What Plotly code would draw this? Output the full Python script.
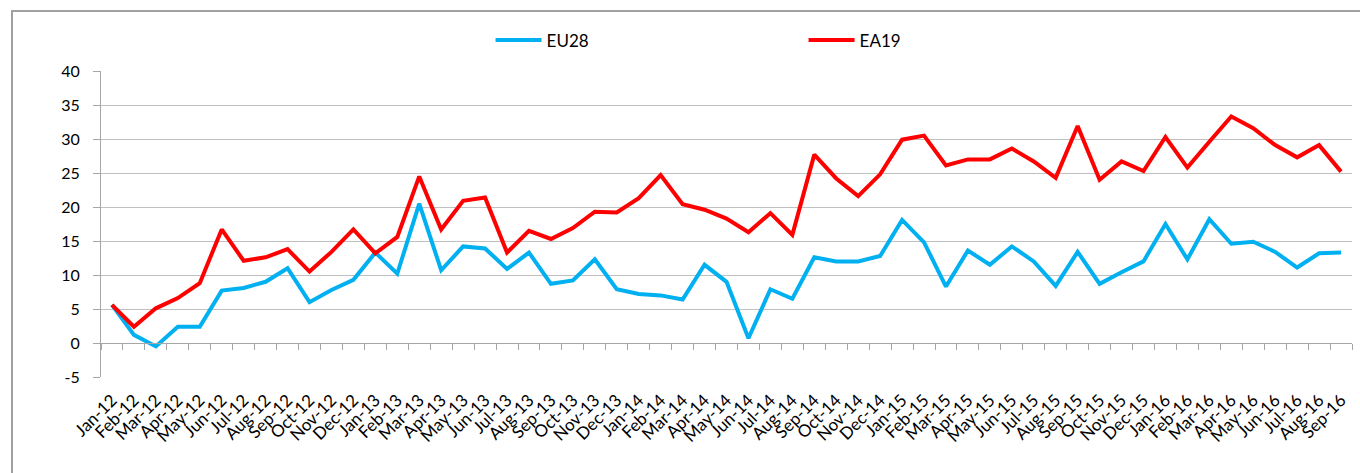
import plotly.graph_objects as go

months = ["Jan","Feb","Mar","Apr","May","Jun","Jul","Aug","Sep","Oct","Nov","Dec"]
categories = [f"{m}-{y}" for y in ["12","13","14","15"] for m in months] + \
             [f"{m}-16" for m in months[:9]]

eu28 = [5.6, 1.2, -0.5, 2.4, 2.4, 7.7, 8.1, 9.0, 11.0, 6.0, 7.8, 9.3,
        13.3, 10.2, 20.5, 10.7, 14.2, 13.9, 10.9, 13.3, 8.7, 9.2, 12.3, 7.9,
        7.2, 7.0, 6.4, 11.5, 9.0, 0.7, 7.9, 6.5, 12.6, 12.0, 12.0, 12.8,
        18.1, 14.8, 8.3, 13.6, 11.5, 14.2, 12.0, 8.4, 13.4, 8.7, 10.4, 12.0,
        17.5, 12.3, 18.2, 14.6, 14.9, 13.4, 11.1, 13.2, 13.3]

ea19 = [5.6, 2.4, 5.1, 6.6, 8.8, 16.7, 12.1, 12.6, 13.8, 10.5, 13.4, 16.7,
        13.2, 15.6, 24.5, 16.7, 20.9, 21.4, 13.3, 16.5, 15.3, 16.9, 19.3, 19.2,
        21.3, 24.7, 20.4, 19.6, 18.3, 16.3, 19.1, 15.9, 27.7, 24.2, 21.6, 24.8,
        29.9, 30.5, 26.1, 27.0, 27.0, 28.6, 26.7, 24.3, 31.9, 24.0, 26.7, 25.3,
        30.3, 25.8, 29.6, 33.3, 31.6, 29.1, 27.3, 29.1, 25.2]

y_ticks = [-5, 0, 5, 10, 15, 20, 25, 30, 35, 40]
y_tick_labels = ["-5", "0", "5", "10", "15", "20", "25", "30", "35", "40"]

FONT = "Lato"
GRID = "#C0C0C0"
AXIS = "#A6A6A6"

fig = go.Figure()
fig.add_trace(go.Scatter(x=categories, y=eu28, name="EU28", mode="lines",
                         line=dict(color="#00B0F0", width=4)))
fig.add_trace(go.Scatter(x=categories, y=ea19, name="EA19", mode="lines",
                         line=dict(color="#FF0000", width=4)))
# invisible helper trace so the zero-crossing category axis is drawn
fig.add_trace(go.Scatter(x=categories, y=eu28, xaxis="x2", mode="lines",
                         line=dict(width=0), opacity=0, showlegend=False,
                         hoverinfo="skip"))

ymin, ymax = y_ticks[0], y_ticks[-1]

fig.update_layout(
    width=1360, height=473,
    margin=dict(l=101, r=8, t=71, b=96),
    paper_bgcolor="white", plot_bgcolor="white",
    font=dict(family=FONT, size=16, color="black"),
    showlegend=True,
    legend=dict(orientation="h", x=0.3114, xanchor="left", y=1.10, yanchor="middle",
                itemwidth=46, entrywidth=252, entrywidthmode="pixels",
                font=dict(family=FONT, size=17, color="black"),
                bgcolor="rgba(0,0,0,0)"),
    xaxis=dict(type="category", categoryorder="array", categoryarray=categories,
               tickangle=-45, showgrid=False, showline=False, ticks="",
               zeroline=False, tickfont=dict(family=FONT, size=17),
               ticklabelstandoff=9,
               range=[-0.5, len(categories) - 0.5]),
    xaxis2=dict(type="category", categoryorder="array", categoryarray=categories,
                overlaying="x", anchor="free", position=(0 - ymin) / (ymax - ymin),
                showticklabels=False, showgrid=False, zeroline=False,
                showline=True, linecolor=AXIS, linewidth=1,
                ticks="outside", ticklen=6, tickcolor=AXIS, tickwidth=1,
                tickson="boundaries", range=[-0.5, len(categories) - 0.5]),
    yaxis=dict(range=[ymin, ymax], tickvals=y_ticks, ticktext=y_tick_labels,
               showgrid=True, gridcolor=GRID, gridwidth=1, zeroline=False,
               showline=True, linecolor=AXIS, linewidth=1,
               ticks="outside", ticklen=7, tickcolor=AXIS,
               ticklabelstandoff=10,
               tickfont=dict(family=FONT, size=16)),
    shapes=[dict(type="rect", xref="paper", yref="paper",
                 x0=(12 - 101) / 1251, x1=1.2, y0=-0.6, y1=(377 - 11) / 306,
                 line=dict(color="#A0A0A0", width=2), fillcolor="rgba(0,0,0,0)",
                 layer="below")],
)

fig.write_html("out.html", config={"displayModeBar": False},
               post_script="document.body.style.margin='0';document.body.style.overflow='hidden';")
